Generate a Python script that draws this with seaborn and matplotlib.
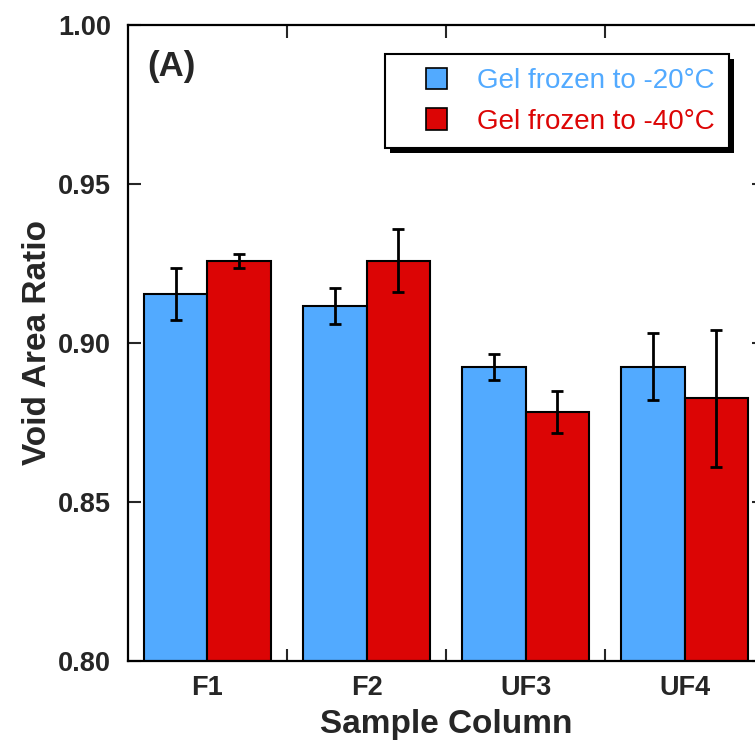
import seaborn as sns
import matplotlib.pyplot as plt
import pandas as pd
from matplotlib.patches import Patch, Rectangle
from matplotlib.legend_handler import HandlerPatch
from matplotlib.transforms import IdentityTransform

samples = ['F1', 'F2', 'UF3', 'UF4']
series = ['Gel frozen to -20°C', 'Gel frozen to -40°C']
ratio_20 = [0.9154, 0.9116, 0.8925, 0.8925]
ratio_40 = [0.9258, 0.9258, 0.8783, 0.8826]
err_20 = [0.0083, 0.0056, 0.0040, 0.0105]
err_40 = [0.0022, 0.0099, 0.0066, 0.0216]
colors = ['#52aaff', '#dc0505']

df = pd.DataFrame({
    'sample': samples * 2,
    'gel': [series[0]] * 4 + [series[1]] * 4,
    'ratio': ratio_20 + ratio_40,
})

sns.set_style('white')
plt.rcParams['font.family'] = ['Liberation Sans', 'DejaVu Sans']

fig = plt.figure(figsize=(7.55, 7.5), dpi=100)
ax = fig.add_axes([0.1695, 0.1187, 0.8425, 0.848])

sns.barplot(data=df, x='sample', y='ratio', hue='gel', palette=colors,
            saturation=1, edgecolor='black', linewidth=1.5, width=0.8,
            ax=ax, legend=False)

# error bars at bar centres
for cont, errs in zip(ax.containers, [err_20, err_40]):
    xs = [p.get_x() + p.get_width() / 2 for p in cont.patches]
    ys = [p.get_height() for p in cont.patches]
    ax.errorbar(xs, ys, yerr=errs, fmt='none', ecolor='black',
                elinewidth=2, capsize=4, capthick=2, zorder=5)

ax.set_ylim(0.80, 1.00)
ax.set_xlim(-0.5, 3.5)
ax.set_yticks([0.80, 0.85, 0.90, 0.95, 1.00])
ax.set_yticklabels(['0.80', '0.85', '0.90', '0.95', '1.00'])
ax.set_xticks([0.5, 1.5, 2.5], minor=True)
ax.tick_params(axis='x', which='major', length=0, pad=10, labelsize=19.5)
ax.tick_params(axis='x', which='minor', direction='in', length=9, width=1.5,
               top=True, bottom=True)
ax.tick_params(axis='y', which='major', direction='in', length=9, width=1.5,
               left=True, right=True, labelsize=19.5, pad=12)
for lab in ax.get_xticklabels() + ax.get_yticklabels():
    lab.set_fontweight('bold')
for s in ax.spines.values():
    s.set_linewidth(1.6)
    s.set_color('black')

ax.set_xlabel('Sample Column', fontsize=24, fontweight='bold', labelpad=6)
ax.set_ylabel('Void Area Ratio', fontsize=24, fontweight='bold', labelpad=4)

ax.text(0.03, 0.935, '(A)', transform=ax.transAxes, fontsize=25,
        fontweight='bold', va='center', ha='left')


def right_square(legend, orig_handle, xdescent, ydescent, width, height, fontsize):
    return Rectangle((width - height - xdescent, -ydescent), height, height)


handles = [Patch(facecolor=c, edgecolor='black', linewidth=1.2) for c in colors]
leg = ax.legend(handles, series, loc='upper left', bbox_to_anchor=(0.404, 0.954),
                fontsize=20, frameon=True, fancybox=False, framealpha=1,
                handlelength=1.73, handleheight=0.8, handletextpad=1.08,
                borderpad=0.5, labelspacing=0.5, borderaxespad=0,
                handler_map={Patch: HandlerPatch(patch_func=right_square)})
leg.get_frame().set_edgecolor('black')
leg.get_frame().set_linewidth(1.5)
for t, c in zip(leg.get_texts(), colors):
    t.set_color(c)

# hard drop shadow behind the legend box
fig.canvas.draw()
bb = leg.get_window_extent()
shadow = Rectangle((bb.x0 + 5, bb.y0 - 5), bb.width, bb.height, facecolor='black',
                   edgecolor='none', transform=IdentityTransform(), zorder=4.9,
                   clip_on=False)
ax.add_artist(shadow)

fig.savefig('out.png', dpi=100)
